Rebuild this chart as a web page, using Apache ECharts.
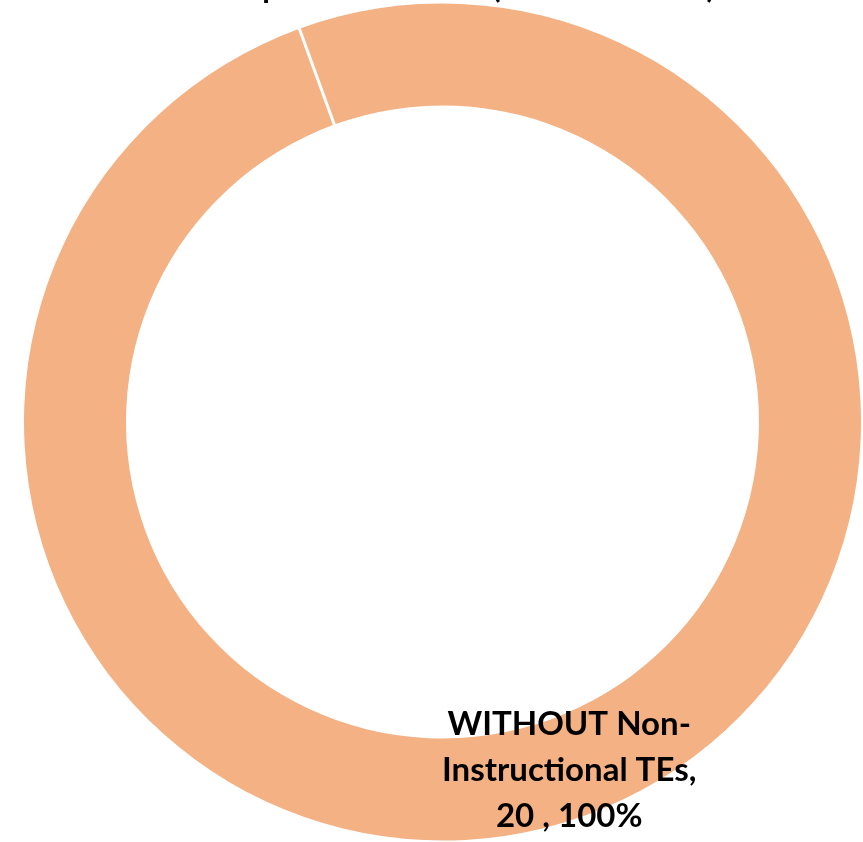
<!DOCTYPE html>
<html><head><meta charset="utf-8">
<script src="https://cdn.jsdelivr.net/npm/echarts@6/dist/echarts.min.js"></script>
<style>html,body{margin:0;padding:0;background:#fff}#c{width:863px;height:842px}</style>
</head><body><div id="c"></div>
<script>
const categories = ["WITHOUT Non-Instructional TEs", "WITH Non-Instructional TEs"];
const values = [20, 0];
const labelLines = ["WITHOUT Non-", "Instructional TEs,"];
const titleText = "Campus Distribution (ALL SCHOOLS)";

const total = values.reduce((a, b) => a + b, 0);
const chart = echarts.init(document.getElementById('c'), null, {renderer: 'canvas'});
chart.setOption({
  animation: false,
  title: {
    text: titleText, left: 195, top: -33,
    textStyle: {fontFamily: 'Lato', fontWeight: 'bold', fontSize: 31, color: '#000'}
  },
  series: [{
    type: 'pie',
    center: [442.5, 422],
    radius: [316.5, 418.5],
    startAngle: 110,
    clockwise: true,
    avoidLabelOverlap: false,
    stillShowZeroSum: true,
    data: categories.map((n, i) => ({
      name: n, value: values[i],
      itemStyle: i === 0 ? {color: '#F4B183'} : {color: '#F4B183', borderColor: '#ffffff', borderWidth: 3},
      label: {show: i === 0}
    })),
    label: {
      position: 'inside',
      formatter: p => labelLines.join('\n') + '\n' + p.value + ' , ' + Math.round(p.value / total * 100) + '%',
      fontFamily: 'Lato', fontWeight: 'bold', fontSize: 33, lineHeight: 46, color: '#000'
    },
    labelLine: {show: false},
    emphasis: {disabled: true}
  }]
});
</script></body></html>
